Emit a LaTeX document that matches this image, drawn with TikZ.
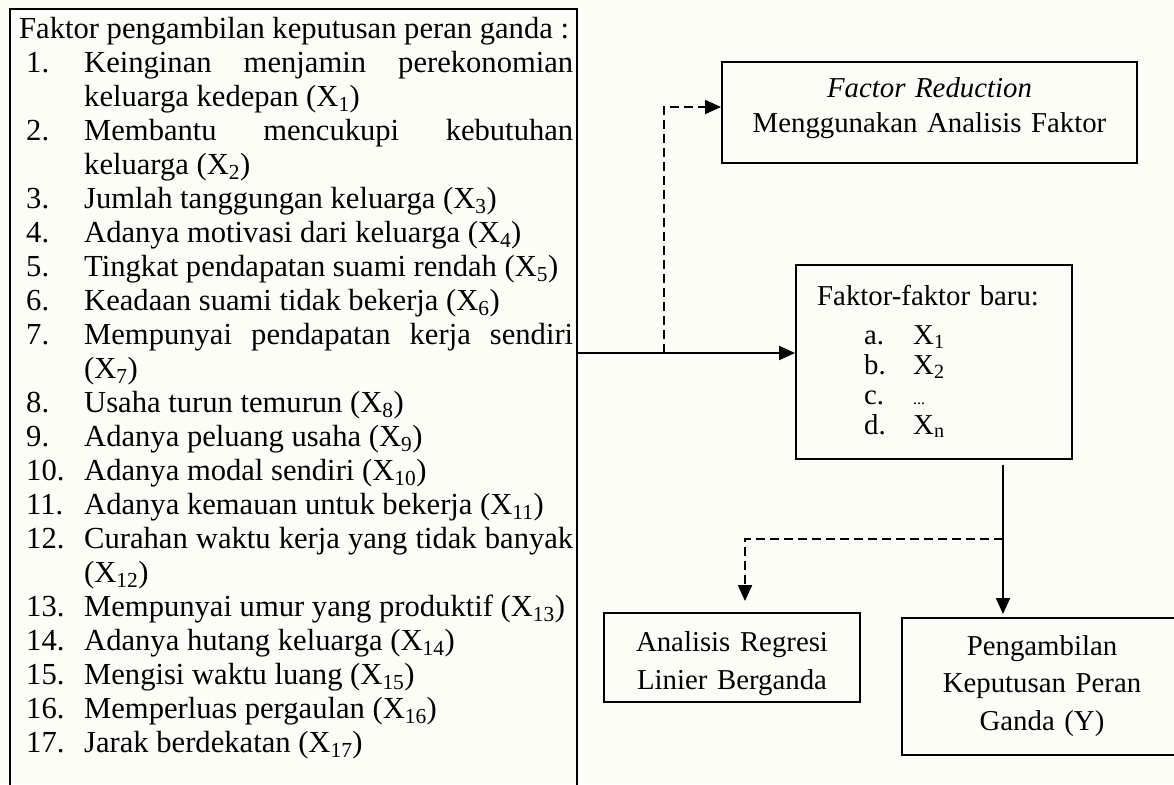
\documentclass[tikz,border=0pt]{standalone}
\usepackage{fontspec}
\setmainfont{Liberation Serif}
\usetikzlibrary{arrows.meta,calc}
\definecolor{bgc}{RGB}{253,253,248}
\tikzset{
  boxshape/.style={draw, line width=1.9pt, rectangle, inner sep=0pt},
  txt/.style={inner sep=0pt, font=\fontsize{30.6}{34}\selectfont},
  rtxt/.style={inner sep=0pt, align=center},
  conn/.style={line width=1.9pt, -{Triangle[length=16pt,width=14pt]}},
  dashconn/.style={conn, dash pattern=on 9pt off 5pt},
}
\newcommand{\itm}[2]{\par\hangindent=65pt\hangafter=1\noindent\makebox[65pt][l]{\hspace{7pt}#1}#2\par}
\newcommand{\xs}[1]{X\textsubscript{#1}}
\begin{document}
\begin{tikzpicture}[x=1pt,y=-1pt]
\useasboundingbox (0,0) rectangle (1174,784);
\fill[bgc] (0,0) rectangle (1174,784);
\clip (0,0) rectangle (1174,784);
% boxes
\node[boxshape, minimum width=567pt, minimum height=791pt] (L) at (293.5,404.5) {};
\node[boxshape, minimum width=415pt, minimum height=101pt] (FR) at (929.5,112.5) {};
\node[boxshape, minimum width=276pt, minimum height=194pt] (FB) at (934,362) {};
\node[boxshape, minimum width=256pt, minimum height=89pt] (AR) at (732,657.5) {};
\node[boxshape, minimum width=280pt, minimum height=137pt] (PK) at (1042,686.5) {};
% texts
\node[txt, anchor=north west, text width=554pt, align=justify] (Ltxt) at (19,14.2) {\strut Faktor pengambilan keputusan peran ganda :\par
\itm{1.}{Keinginan menjamin perekonomian\linebreak keluarga kedepan (\xs{1})}
\itm{2.}{Membantu mencukupi kebutuhan\linebreak keluarga (\xs{2})}
\itm{3.}{Jumlah tanggungan keluarga (\xs{3})}
\itm{4.}{Adanya motivasi dari keluarga (\xs{4})}
\itm{5.}{Tingkat pendapatan suami rendah (\xs{5})}
\itm{6.}{Keadaan suami tidak bekerja (\xs{6})}
\itm{7.}{Mempunyai pendapatan kerja sendiri\linebreak (\xs{7})}
\itm{8.}{Usaha turun temurun (\xs{8})}
\itm{9.}{Adanya peluang usaha (\xs{9})}
\itm{10.}{Adanya modal sendiri (\xs{10})}
\itm{11.}{Adanya kemauan untuk bekerja (\xs{11})}
\itm{12.}{Curahan waktu kerja yang tidak banyak\linebreak (\xs{12})}
\itm{13.}{Mempunyai umur yang produktif (\xs{13})}
\itm{14.}{Adanya hutang keluarga (\xs{14})}
\itm{15.}{Mengisi waktu luang (\xs{15})}
\itm{16.}{Memperluas pergaulan (\xs{16})}
\itm{17.}{Jarak berdekatan (\xs{17})}};
\node[rtxt, anchor=north, text width=405pt, font=\fontsize{28.8}{35}\selectfont] (FRtxt) at (929.5,72.5) {\strut\textit{Factor Reduction}\\Menggunakan Analisis Faktor};
\node[inner sep=0pt, anchor=north west, text width=250pt, font=\fontsize{28.8}{30}\selectfont] (FBtxt) at (817,284) {\strut Faktor-faktor baru:\\[9pt]
\hspace*{47pt}\makebox[49pt][l]{a.}\xs{1}\\
\hspace*{47pt}\makebox[49pt][l]{b.}\xs{2}\\
\hspace*{47pt}\makebox[49pt][l]{c.}{\fontsize{16}{16}\selectfont ...}\\
\hspace*{47pt}\makebox[49pt][l]{d.}X\textsubscript{n}};
\node[rtxt, anchor=north, text width=250pt, font=\fontsize{28.8}{38}\selectfont] (ARtxt) at (732,624.4) {\strut Analisis Regresi\\Linier Berganda};
\node[rtxt, anchor=north, text width=270pt, font=\fontsize{28.8}{37.5}\selectfont] (PKtxt) at (1042,628.8) {\strut Pengambilan\\Keputusan Peran\\Ganda (Y)};
% connectors
\coordinate (j) at (664,353);
\coordinate (d) at (1003,539);
\draw[conn] (j -| L.east) -- (j -| FB.west);
\draw[dashconn] (j) |- ([yshift=5.5pt]FR.west);
\draw[conn] ([yshift=-5pt]FB.south -| d) -- ([yshift=3pt]PK.north -| d);
\draw[dashconn] (d) -| ($(AR.north)+(13,-11)$);
\end{tikzpicture}
\end{document}
